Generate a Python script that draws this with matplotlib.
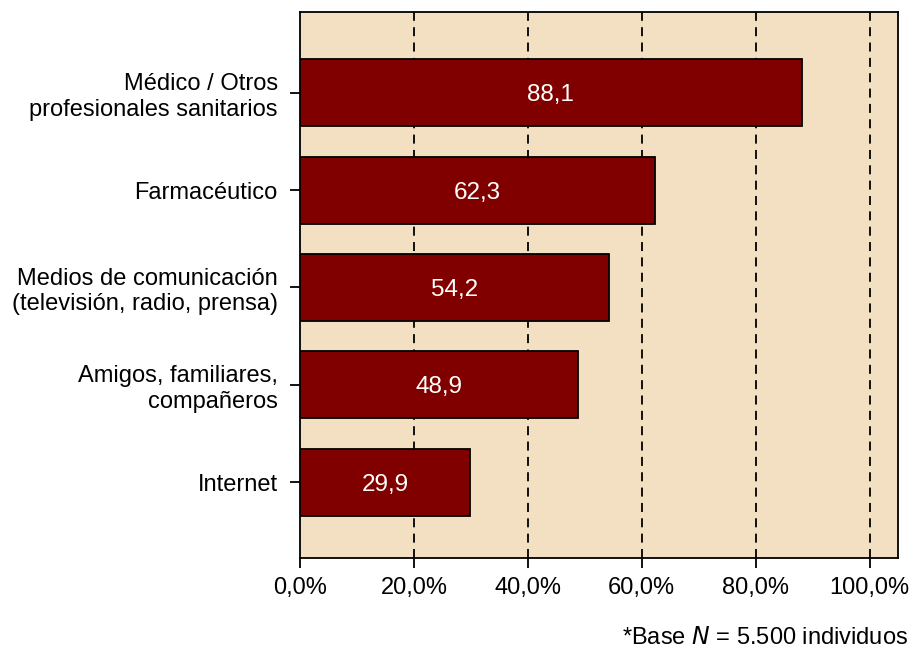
import matplotlib
matplotlib.use("Agg")
import matplotlib.pyplot as plt
import numpy as np

plt.rcParams['font.family'] = ['Liberation Sans', 'DejaVu Sans']

categories = ["Médico / Otros\nprofesionales sanitarios", "Farmacéutico",
              "Medios de comunicación\n(televisión, radio, prensa)",
              "Amigos, familiares,\ncompañeros", "Internet"]
values = [88.1, 62.3, 54.2, 48.9, 29.9]
value_labels = ["88,1", "62,3", "54,2", "48,9", "29,9"]
xticks = [0, 20, 40, 60, 80, 100]
xtick_labels = ["0,0%", "20,0%", "40,0%", "60,0%", "80,0%", "100,0%"]

fig = plt.figure(figsize=(9.11, 6.5), dpi=100)
ax = fig.add_axes([300/911, 1-558/650, (898-300)/911, (558-12)/650])
ax.set_facecolor('#F3E0C2')

y = np.arange(len(categories))[::-1]
ax.barh(y, values, height=0.69, color='#800000', edgecolor='black', linewidth=1.3, zorder=3)
for yi, v, lab in zip(y, values, value_labels):
    ax.text(v/2, yi, lab, ha='center', va='center_baseline', color='white', fontsize=17.5, zorder=4)

for xt in xticks[1:]:
    ax.axvline(xt, color='black', linestyle=(0, (5, 3.5)), linewidth=1.3, zorder=1)

ax.set_xlim(0, 105)
ax.set_ylim(-0.78, 4.83)
ax.set_xticks(xticks)
ax.set_xticklabels(xtick_labels, fontsize=17)
ax.set_yticks(y)
ax.set_yticklabels(categories, fontsize=17, linespacing=1.2)
ax.tick_params(axis='both', length=7, width=1.3, color='black')
ax.tick_params(axis='y', pad=9)
ax.tick_params(axis='x', pad=7)
for s in ax.spines.values():
    s.set_linewidth(1.3)

fig.text(908/911, 1-638/650, r"*Base $\it{N}$ = 5.500 individuos", ha='right', va='center', fontsize=17)

fig.savefig("out.png", dpi=100)
